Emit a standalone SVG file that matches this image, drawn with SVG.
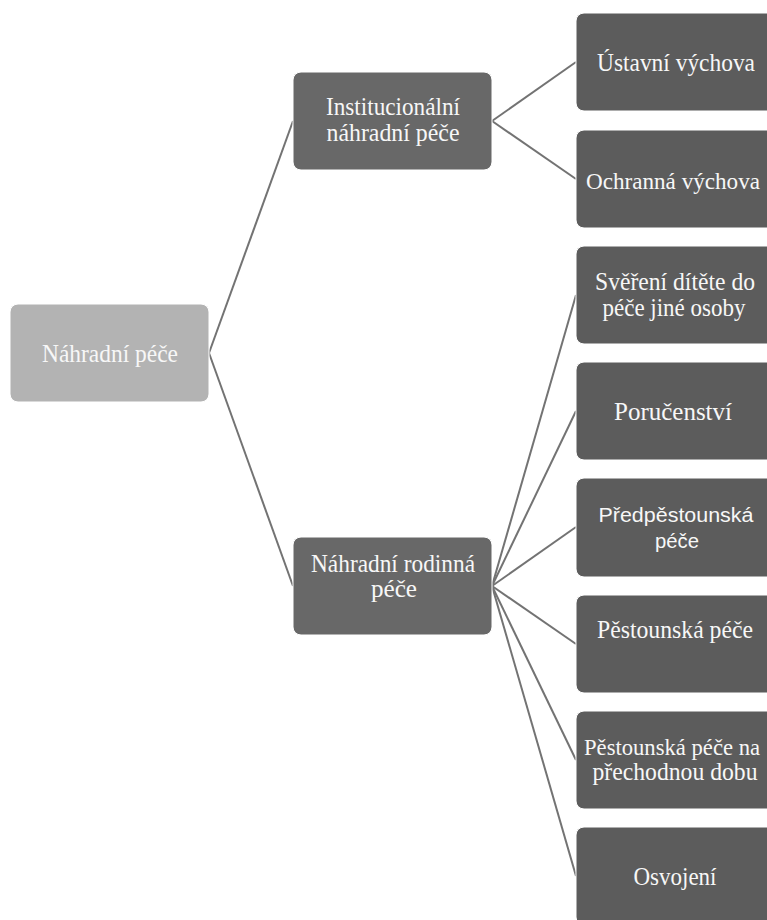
<svg xmlns="http://www.w3.org/2000/svg" width="767" height="920" viewBox="0 0 767 920">
<style>
.root{fill:#b3b3b3;stroke:#ffffff;stroke-width:1}
.l2{fill:#686868;stroke:#ffffff;stroke-width:1}
.l3{fill:#5c5c5c;stroke:#ffffff;stroke-width:1}
text{fill:#f7f7f7;font-family:"Liberation Serif","Times New Roman",serif;font-size:25px;text-anchor:middle}
text.sm{font-size:24px}
text.xs{font-size:23px}
text.sans{font-family:"Liberation Sans",Arial,sans-serif;font-size:20px}
.conn line{stroke:#737373;stroke-width:2;fill:none}
</style>
<rect width="767" height="920" fill="#ffffff"/>
<g id="connectors" class="conn">
<line x1="209" y1="353" x2="293" y2="121"/>
<line x1="209" y1="353" x2="293" y2="586"/>
<line x1="492" y1="121" x2="576" y2="62"/>
<line x1="492" y1="121" x2="576" y2="179"/>
<line x1="492" y1="586" x2="576" y2="295"/>
<line x1="492" y1="586" x2="576" y2="411"/>
<line x1="492" y1="586" x2="576" y2="527"/>
<line x1="492" y1="586" x2="576" y2="644"/>
<line x1="492" y1="586" x2="576" y2="760"/>
<line x1="492" y1="586" x2="576" y2="876"/>
</g>
<g id="n-nahradni-pece">
<rect class="root" x="10" y="304" width="199" height="98" rx="8"/>
<text x="110" y="362" textLength="136" lengthAdjust="spacingAndGlyphs">Náhradní péče</text>
</g>
<g id="n-institucionalni">
<rect class="l2" x="293" y="72" width="199" height="98" rx="8"/>
<text x="393" y="115" textLength="134" lengthAdjust="spacingAndGlyphs">Institucionální</text>
<text x="393" y="141" textLength="133" lengthAdjust="spacingAndGlyphs">náhradní péče</text>
</g>
<g id="n-rodinna">
<rect class="l2" x="293" y="537" width="199" height="98" rx="8"/>
<text x="393" y="572" textLength="164" lengthAdjust="spacingAndGlyphs">Náhradní rodinná</text>
<text x="394" y="597" textLength="46" lengthAdjust="spacingAndGlyphs">péče</text>
</g>
<g id="n-ustavni">
<rect class="l3" x="576" y="13" width="199" height="98" rx="8"/>
<text x="676" y="71" textLength="158" lengthAdjust="spacingAndGlyphs">Ústavní výchova</text>
</g>
<g id="n-ochranna">
<rect class="l3" x="576" y="130" width="199" height="98" rx="8"/>
<text class="sm" x="673" y="189" textLength="174" lengthAdjust="spacingAndGlyphs">Ochranná výchova</text>
</g>
<g id="n-sverení">
<rect class="l3" x="576" y="246" width="199" height="98" rx="8"/>
<text x="675" y="290" textLength="160" lengthAdjust="spacingAndGlyphs">Svěření dítěte do</text>
<text x="674" y="316" textLength="143" lengthAdjust="spacingAndGlyphs">péče jiné osoby</text>
</g>
<g id="n-porucenstvi">
<rect class="l3" x="576" y="362" width="199" height="98" rx="8"/>
<text x="673" y="420" textLength="118" lengthAdjust="spacingAndGlyphs">Poručenství</text>
</g>
<g id="n-predpestounska">
<rect class="l3" x="576" y="478" width="199" height="99" rx="8"/>
<text class="sans" x="676" y="522" textLength="155" lengthAdjust="spacingAndGlyphs">Předpěstounská</text>
<text class="sans" x="677" y="548" textLength="44" lengthAdjust="spacingAndGlyphs">péče</text>
</g>
<g id="n-pestounska">
<rect class="l3" x="576" y="595" width="199" height="98" rx="8"/>
<text x="675" y="638" textLength="156" lengthAdjust="spacingAndGlyphs">Pěstounská péče</text>
</g>
<g id="n-pestounska-prechodna">
<rect class="l3" x="576" y="711" width="199" height="98" rx="8"/>
<text class="xs" x="672" y="755" textLength="176" lengthAdjust="spacingAndGlyphs">Pěstounská péče na</text>
<text x="675" y="780" textLength="165" lengthAdjust="spacingAndGlyphs">přechodnou dobu</text>
</g>
<g id="n-osvojeni">
<rect class="l3" x="576" y="827" width="199" height="98" rx="8"/>
<text x="675" y="885" textLength="83" lengthAdjust="spacingAndGlyphs">Osvojení</text>
</g>
</svg>
